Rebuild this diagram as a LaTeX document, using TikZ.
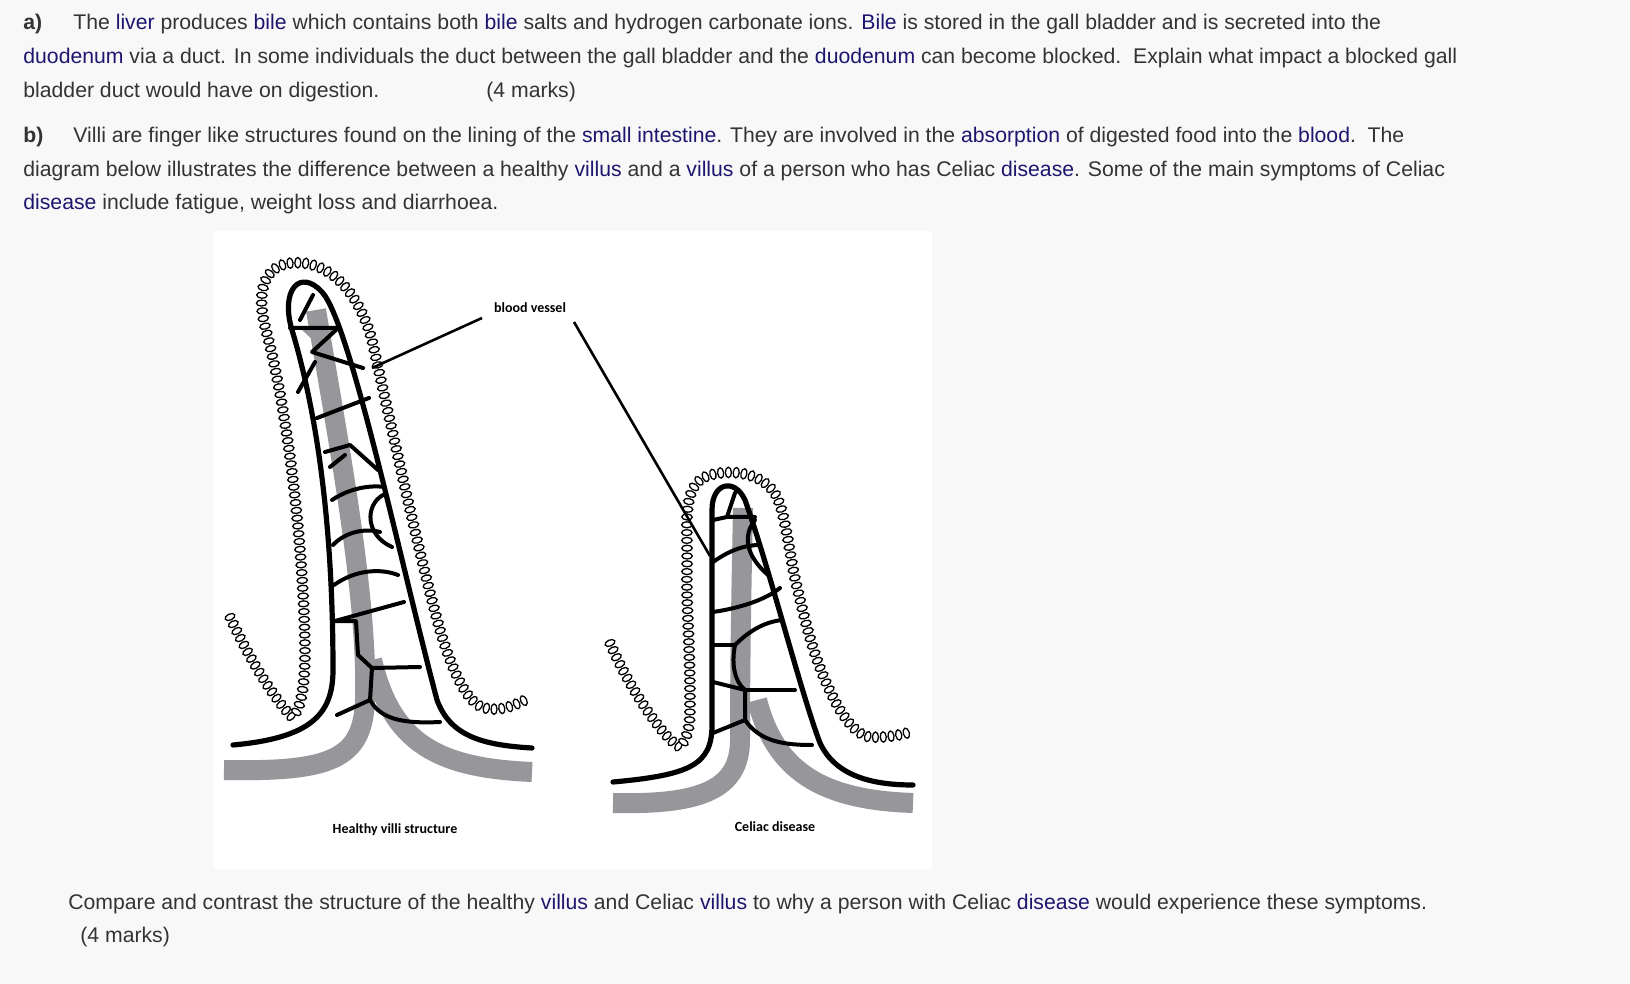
\documentclass[tikz,border=0pt]{standalone}
\usepackage{fontspec}
\setmainfont{Liberation Sans}
\newfontfamily\calib{Carlito}
\usetikzlibrary{decorations.markings}
\definecolor{bgc}{RGB}{248,248,248}
\definecolor{txt}{RGB}{51,51,51}
\definecolor{link}{RGB}{30,22,110}
\definecolor{gry}{RGB}{150,150,155}
\newcommand\lk[1]{\textcolor{link}{#1}}
\tikzset{
 line/.style={anchor=base west,inner sep=0pt,text=txt,font=\fontsize{10.6pt}{12pt}\selectfont},
 lab/.style={inner sep=0pt,font=\calib\bfseries\fontsize{7pt}{8pt}\selectfont},
 outl/.style={line width=2.6pt,line cap=round,line join=round},
 bar/.style={line width=2pt,line cap=round,line join=round},
 gband/.style={gry,line width=10pt},
 mv/.style={postaction={decorate},decoration={markings,mark=between positions 0 and 1 step 3.9pt with {\draw[line width=0.65pt,fill=white] (0,0) ellipse (1.5pt and 2.6pt);}}}
}
\begin{document}
\begin{tikzpicture}[x=0.5pt,y=-0.5pt]
\fill[bgc] (0,0) rectangle (1630,984);
\useasboundingbox (0,0) rectangle (1630,984);
% text
\node[line] (a) at (23,30) {\textbf{a)}};
\node[line] (l1) at (73,30) {The \lk{liver} produces \lk{bile} which contains both \lk{bile} salts and hydrogen carbonate ions. \lk{Bile} is stored in the gall bladder and is secreted into the};
\node[line] (l2) at (23,64) {\lk{duodenum} via a duct. In some individuals the duct between the gall bladder and the \lk{duodenum} can become blocked.\ \ Explain what impact a blocked gall};
\node[line] (l3) at (23,98) {bladder duct would have on digestion.};
\node[line] (l3b) at (486,98) {(4 marks)};
\node[line] (b) at (23,143) {\textbf{b)}};
\node[line] (l4) at (73,143) {Villi are finger like structures found on the lining of the \lk{small intestine}. They are involved in the \lk{absorption} of digested food into the \lk{blood}.\ \ The};
\node[line] (l5) at (23,177) {diagram below illustrates the difference between a healthy \lk{villus} and a \lk{villus} of a person who has Celiac \lk{disease}. Some of the main symptoms of Celiac};
\node[line] (l6) at (23,210) {\lk{disease} include fatigue, weight loss and diarrhoea.};
\node[line] (l7) at (68,909) {Compare and contrast the structure of the healthy \lk{villus} and Celiac \lk{villus} to why a person with Celiac \lk{disease} would experience these symptoms.};
\node[line] (l8) at (80,942) {(4 marks)};
% panel
\fill[white] (214,231) rectangle (932,869);
% ===== healthy villus =====
\draw[gband] (224,770) .. controls (330,772) and (363,760) .. (365,700) .. controls (368,600) and (340,450) .. (316,310);
\draw[gband] (372,660) .. controls (392,745) and (440,768) .. (532,772);
\fill[gry] (300,328) -- (336,328) -- (318,345) -- cycle;
\draw[outl] (233,745) .. controls (310,738) and (333,715) .. (333,670) .. controls (333,550) and (322,430) .. (292,330) .. controls (280,290) and (300,268) .. (322,292) .. controls (350,322) and (400,560) .. (437,700) .. controls (450,735) and (480,745) .. (532,748);
\draw[bar] (290,328)--(336,328) (300,320)--(313,295);
\draw[bar] (336,330)--(312,352)--(363,368);
\draw[bar] (298,392)--(315,362);
\draw[bar] (317,418)--(369,398);
\draw[bar] (325,452)--(350,445)--(378,470);
\draw[bar] (330,467)--(345,455);
\draw[bar] (332,500) .. controls (350,488) and (370,485) .. (385,487);
\draw[bar] (383,495) .. controls (365,505) and (365,535) .. (392,547);
\draw[bar] (333,545) .. controls (345,532) and (365,528) .. (380,532);
\draw[bar] (334,585) .. controls (355,570) and (380,568) .. (398,575);
\draw[bar] (335,621) -- (404,602);
\draw[bar] (335,621) -- (356,621) -- (358,655) -- (372,668);
\draw[bar] (372,668) -- (420,667);
\draw[bar] (372,668) -- (370,700) -- (337,715);
\draw[bar] (370,700) .. controls (380,718) and (400,724) .. (440,722);
\path[mv] (230,617) .. controls (250,660) and (275,700) .. (292,717) .. controls (302,710) and (305,680) .. (305,650) .. controls (304,560) and (290,420) .. (266,330) .. controls (255,290) and (265,265) .. (292,263) .. controls (320,260) and (355,280) .. (372,340) .. controls (390,420) and (420,560) .. (440,630) .. controls (455,680) and (470,705) .. (485,708) .. controls (500,712) and (515,705) .. (525,700);
% ===== celiac villus =====
\draw[gband] (613,803) .. controls (700,805) and (740,790) .. (740,740) .. controls (740,650) and (742,560) .. (743,508);
\draw[gband] (757,700) .. controls (775,770) and (820,800) .. (913,803);
\draw[outl] (613,782) .. controls (690,775) and (712,765) .. (712,725) -- (712,510) .. controls (712,482) and (735,478) .. (745,500) .. controls (770,570) and (800,690) .. (820,743) .. controls (835,775) and (870,785) .. (913,785);
\draw[bar] (713,520)--(727,517)--(735,493) (727,517)--(755,517);
\draw[bar] (755,520) .. controls (743,535) and (745,555) .. (768,575);
\draw[bar] (713,562) .. controls (730,550) and (745,545) .. (760,545);
\draw[bar] (713,612) .. controls (740,608) and (765,600) .. (780,588);
\draw[bar] (713,645)--(735,645);
\draw[bar] (735,645) .. controls (750,630) and (765,622) .. (782,620);
\draw[bar] (735,645) .. controls (731,665) and (735,682) .. (745,690);
\draw[bar] (713,682)--(745,690);
\draw[bar] (745,690) .. controls (760,690) and (780,690) .. (795,690);
\draw[bar] (745,690)--(745,720)--(713,733);
\draw[bar] (745,720) .. controls (760,742) and (785,745) .. (812,745);
\path[mv] (610,643) .. controls (630,690) and (665,740) .. (680,747) .. controls (690,735) and (690,720) .. (690,703) .. controls (690,640) and (686,600) .. (687,570) .. controls (688,530) and (682,495) .. (700,480) .. controls (712,470) and (760,465) .. (777,497) .. controls (787,520) and (790,560) .. (797,587) .. controls (805,620) and (812,650) .. (825,680) .. controls (840,715) and (855,735) .. (870,737) .. controls (885,738) and (900,735) .. (907,733);
% labels and leader lines
\node[lab] (bv) at (530,308) {blood vessel};
\coordinate (bv1) at (482,318);
\coordinate (bv2) at (574,322);
\coordinate (t1) at (372,368);
\coordinate (t2) at (710,556);
\draw[line width=1.3pt] (bv1) -- (t1);
\draw[line width=1.3pt] (bv2) -- (t2);
\node[lab] (hv) at (395,830) {Healthy villi structure};
\node[lab] (cd) at (775,827) {Celiac disease};
\end{tikzpicture}
\end{document}
